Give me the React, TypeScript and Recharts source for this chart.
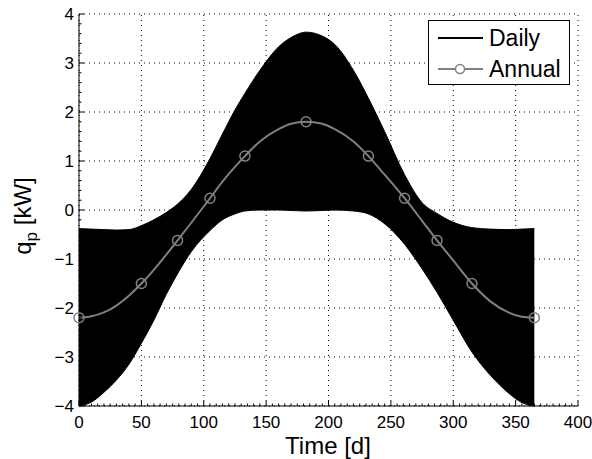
import { ComposedChart, Area, Line, XAxis, YAxis, ReferenceLine } from "recharts";

// day of year where the curves were read
const days = [
  0, 10, 20, 30, 40, 50, 60, 70, 79, 90, 105, 115, 125, 133, 145, 160, 170,
  182, 195, 205, 220, 232, 245, 261, 275, 287, 300, 315, 330, 345, 355, 365,
];

// envelope of the daily signal (kW)
const dailyLow = [
  -4.0, -3.92, -3.72, -3.47, -3.15, -2.72, -2.25, -1.72, -1.3, -0.85, -0.42,
  -0.2, -0.08, -0.02, 0.0, 0.0, -0.01, -0.02, -0.01, 0.0, -0.02, -0.08, -0.28,
  -0.7, -1.2, -1.68, -2.25, -2.9, -3.38, -3.75, -3.93, -4.0,
];
const dailyHigh = [
  -0.38, -0.39, -0.4, -0.41, -0.4, -0.32, -0.2, -0.05, 0.12, 0.42, 1.05, 1.55,
  2.04, 2.38, 2.85, 3.33, 3.52, 3.63, 3.55, 3.38, 2.85, 2.28, 1.6, 0.72, 0.15,
  -0.07, -0.25, -0.36, -0.39, -0.4, -0.39, -0.38,
];

// annual mean curve (kW)
const annual = [
  -2.2, -2.17, -2.09, -1.95, -1.75, -1.5, -1.22, -0.91, -0.62, -0.26, 0.24,
  0.58, 0.88, 1.1, 1.4, 1.65, 1.76, 1.8, 1.76, 1.65, 1.4, 1.1, 0.72, 0.24,
  -0.22, -0.62, -1.03, -1.5, -1.87, -2.1, -2.18, -2.2,
];
const annualMarkerDays = [0, 50, 79, 105, 133, 182, 232, 261, 287, 315, 365];

const xMajor = [0, 50, 100, 150, 200, 250, 300, 350, 400];
const yMajor = [-4, -3, -2, -1, 0, 1, 2, 3, 4];

const xMinor = Array.from({ length: 81 }, (_, i) => i * 5);
const yMinor = Array.from({ length: 41 }, (_, i) => Math.round((i * 0.2 - 4) * 10) / 10);

const data = days.map((d, i) => ({
  day: d,
  band: [dailyLow[i], dailyHigh[i]],
  annual: annual[i],
}));

const FONT = "'Liberation Sans', Arial, Helvetica, sans-serif";
const GREY = "#808080";

const isMajor = (v: number) => Math.abs(v - Math.round(v)) < 1e-6;

const XTick = (props: any) => {
  const { x, y, payload } = props;
  const v = payload.value;
  const major = xMajor.includes(v);
  return (
    <g>
      <line x1={x} x2={x} y1={y} y2={y - (major ? 5 : 2.5)} stroke="#000" />
      {major && (
        <text x={x} y={y + 22} textAnchor="middle" fontSize={17} fontFamily={FONT} fill="#000">
          {v}
        </text>
      )}
    </g>
  );
};

const YTick = (props: any) => {
  const { x, y, payload } = props;
  const v = payload.value;
  const major = isMajor(v);
  return (
    <g>
      <line x1={x} x2={x + (major ? 5 : 2.5)} y1={y} y2={y} stroke="#000" />
      {major && (
        <text x={x - 5} y={y + 6} textAnchor="end" fontSize={17} fontFamily={FONT} fill="#000">
          {String(Math.round(v)).replace("-", "\u2212")}
        </text>
      )}
    </g>
  );
};

const AnnualDot = (props: any) => {
  const { cx, cy, payload, index } = props;
  if (!annualMarkerDays.includes(payload.day)) return <g key={`d-${index}`} />;
  return (
    <circle key={`d-${index}`} cx={cx} cy={cy} r={5} fill="none" stroke={GREY} strokeWidth={1.5} />
  );
};

export default function App() {
  return (
    <div style={{ position: "relative", width: 592, height: 459, background: "#fff" }}>
      <style>{"body{margin:0;overflow:hidden}"}</style>
      <ComposedChart width={592} height={459} data={data} margin={{ top: 14, right: 14, bottom: 0, left: 0 }}>
        {xMajor.map((v) => (
          <ReferenceLine key={`gx${v}`} x={v} stroke="#000" strokeDasharray="1 4" strokeWidth={1} />
        ))}
        {yMajor.map((v) => (
          <ReferenceLine key={`gy${v}`} y={v} stroke="#000" strokeDasharray="1 4" strokeWidth={1} />
        ))}
        <XAxis
          dataKey="day"
          type="number"
          domain={[0, 400]}
          ticks={xMinor}
          interval={0}
          tickSize={0}
          tickMargin={0}
          height={53}
          axisLine={{ stroke: "#000" }}
          tick={<XTick />}
          label={{
            content: () => (
              <text x={328} y={454} textAnchor="middle" fontSize={24} fontFamily={FONT} fill="#000">
                Time [d]
              </text>
            ),
          }}
        />
        <YAxis
          type="number"
          domain={[-4, 4]}
          ticks={yMinor}
          interval={0}
          tickSize={0}
          tickMargin={0}
          width={79}
          axisLine={{ stroke: "#000" }}
          tick={<YTick />}
          label={{
            content: () => (
              <text
                x={31}
                y={216}
                transform="rotate(-90 31 216)"
                textAnchor="middle"
                fontSize={24}
                fontFamily={FONT}
                fill="#000"
              >
                <tspan>q</tspan>
                <tspan dy={6} fontSize={17}>p</tspan>
                <tspan dy={-6}> [kW]</tspan>
              </text>
            ),
          }}
        />
        <Area
          type="monotone"
          dataKey="band"
          stroke="#000"
          fill="#000"
          fillOpacity={1}
          isAnimationActive={false}
          dot={false}
          activeDot={false}
        />
        <Line
          type="monotone"
          dataKey="annual"
          stroke={GREY}
          strokeWidth={2}
          dot={<AnnualDot />}
          activeDot={false}
          isAnimationActive={false}
        />
      </ComposedChart>
      <svg
        width={592}
        height={459}
        style={{ position: "absolute", left: 0, top: 0, pointerEvents: "none" }}
      >
        <rect x={428.5} y={20.5} width={141} height={64} fill="#fff" stroke="#000" />
        <line x1={438} x2={483} y1={38} y2={38} stroke="#000" strokeWidth={2} />
        <text x={489} y={46} fontSize={23} fontFamily={FONT} fill="#000">
          Daily
        </text>
        <line x1={438} x2={483} y1={69} y2={69} stroke={GREY} strokeWidth={2} />
        <circle cx={460} cy={69} r={4.5} fill="#fff" stroke={GREY} strokeWidth={1.5} />
        <text x={489} y={77} fontSize={23} fontFamily={FONT} fill="#000">
          Annual
        </text>
      </svg>
    </div>
  );
}
